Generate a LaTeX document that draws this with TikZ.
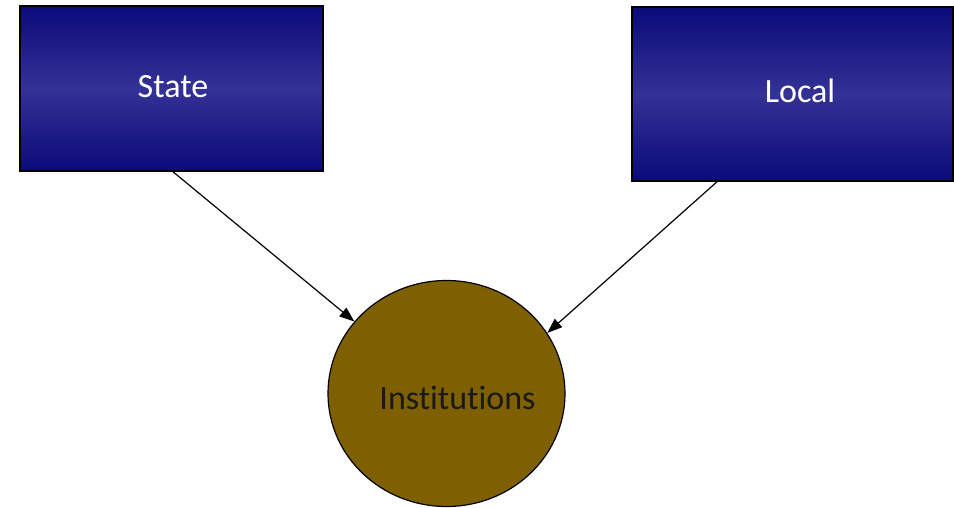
\documentclass[tikz,border=0pt]{standalone}
\usepackage{fontspec}
\setmainfont{Carlito}[Ligatures={NoCommon}]
\usetikzlibrary{arrows.meta,calc,shapes.geometric}
\definecolor{navydark}{RGB}{10,10,122}
\definecolor{navylight}{RGB}{52,50,150}
\definecolor{ochre}{RGB}{127,96,0}
\begin{document}
\begin{tikzpicture}[x=1pt,y=-1pt,
  box/.style={rectangle, draw=black, line width=1.5pt,
    top color=navydark, bottom color=navydark, middle color=navylight,
    inner sep=0pt},
  lbl/.style={inner sep=0pt, font=\fontsize{34}{40}\selectfont},
  link/.style={line width=1.2pt, -{Triangle[length=15pt,width=11pt]}}]
  \useasboundingbox (0,0) rectangle (954,507);
  \begin{scope}
    \clip (0,0) rectangle (954,507);
    % boxes
    \node[box, minimum width=303pt, minimum height=165pt] (state) at (171.5,88.5) {};
    \node[box, minimum width=321pt, minimum height=174pt] (local) at (792.5,94) {};
    % circle
    \node[ellipse, draw=black, line width=1.2pt, fill=ochre,
      minimum width=237pt, minimum height=226pt, inner sep=0pt] (inst) at (446.5,393.5) {};
    % labels
    \node[lbl, text=white] (statetxt) at (173,87) {State};
    \node[lbl, text=white] (localtxt) at (800,91) {Local};
    \node[lbl, text=black!90] (insttxt) at (457.5,398) {Institutions};
    % connectors
    \draw[link] ([xshift=1.5pt]state.south) -- (inst.142.6);
    \draw[link] ([xshift=-75.5pt]local.south) -- (inst.31.5);
  \end{scope}
\end{tikzpicture}
\end{document}
